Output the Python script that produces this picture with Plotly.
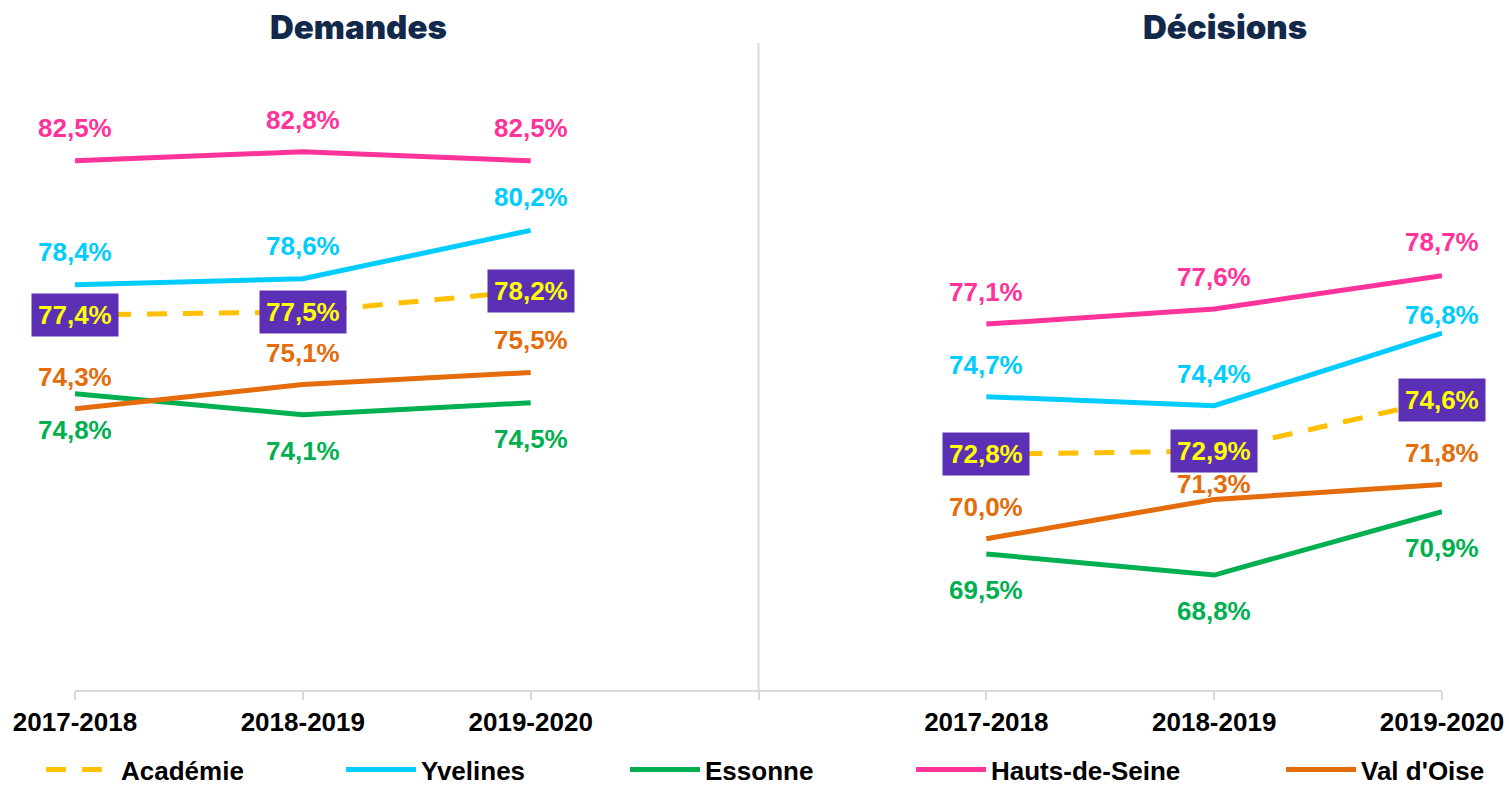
import plotly.graph_objects as go

# ---------------- data ----------------
categories = ["2017-2018", "2018-2019", "2019-2020"]
panels = ["Demandes", "Décisions"]
series_names = ["Académie", "Yvelines", "Essonne", "Hauts-de-Seine", "Val d'Oise"]

academie_dem = [77.4, 77.5, 78.2]
academie_dec = [72.8, 72.9, 74.6]
yvelines_dem = [78.4, 78.6, 80.2]
yvelines_dec = [74.7, 74.4, 76.8]
essonne_dem = [74.8, 74.1, 74.5]
essonne_dec = [69.5, 68.8, 70.9]
hds_dem = [82.5, 82.8, 82.5]
hds_dec = [77.1, 77.6, 78.7]
vdo_dem = [74.3, 75.1, 75.5]
vdo_dec = [70.0, 71.3, 71.8]

# ---------------- styling ----------------
colors = {
    "Académie": "#FFC000",
    "Yvelines": "#00CCFF",
    "Essonne": "#00B050",
    "Hauts-de-Seine": "#FF3399",
    "Val d'Oise": "#E46C0A",
}
# label vertical offsets in px (positive = above point), per series: 6 values (3 left, 3 right)
label_shift = {
    "Yvelines": [33, 33, 33, 32, 32, 18],
    "Essonne": [-36, -36, -36, -36, -36, -36],
    "Hauts-de-Seine": [33, 32, 33, 32, 32, 34],
    "Val d'Oise": [32, 32, 32, 32, 15, 31],
}
legend_text_px = [121, 421, 705, 991, 1361]

W, H = 1509, 793
L, R, T, B = 75, 67, 43, 103
plot_w = W - L - R

data = {
    "Académie": (academie_dem, academie_dec),
    "Yvelines": (yvelines_dem, yvelines_dec),
    "Essonne": (essonne_dem, essonne_dec),
    "Hauts-de-Seine": (hds_dem, hds_dec),
    "Val d'Oise": (vdo_dem, vdo_dec),
}

n = len(categories)
x_left = list(range(n))
x_right = [n + 1 + i for i in range(n)]
x_all = x_left + [None] + x_right

fmt = lambda v: f"{v:.1f}%".replace(".", ",")

fig = go.Figure()
annotations = []
label_font = dict(family="Liberation Sans, Arial, sans-serif", size=26)

for k, name in enumerate(series_names):
    dem, dec = data[name]
    y_all = dem + [None] + dec
    lg = "legend" if k == 0 else f"legend{k + 1}"
    fig.add_trace(go.Scatter(
        x=x_all, y=y_all, mode="lines", name=f"<b>{name}</b>",
        line=dict(color=colors[name], width=5,
                  dash="20px,16px" if name == "Académie" else "solid"),
        connectgaps=False, legend=lg, hoverinfo="skip",
    ))
    xs = x_left + x_right
    ys = dem + dec
    for i, (xv, yv) in enumerate(zip(xs, ys)):
        if name == "Académie":
            annotations.append(dict(
                x=xv, y=yv, xref="x", yref="y", text=f"<b>{fmt(yv)}</b>",
                showarrow=False, font=dict(label_font, color="#FFFF00"),
                bgcolor="#5B30B5", borderpad=6, xanchor="center", yanchor="middle",
            ))
        else:
            annotations.append(dict(
                x=xv, y=yv, xref="x", yref="y", text=f"<b>{fmt(yv)}</b>",
                showarrow=False, font=dict(label_font, color=colors[name]),
                xanchor="center", yanchor="middle", yshift=label_shift[name][i],
            ))

# panel titles
title_font = dict(family="Arial Black, Inter, Roboto, sans-serif", size=33, color="#13294B", weight=900)
for title, px in zip(panels, [358, 1225]):
    annotations.append(dict(
        x=(px - L) / plot_w, y=1 + (T - 27) / (H - T - B), xref="paper", yref="paper",
        text=title, showarrow=False, font=title_font, xanchor="center", yanchor="middle",
    ))

fig.update_layout(annotations=annotations)

# divider between panels
fig.add_shape(type="line", xref="x", yref="y domain", x0=n, x1=n, y0=0, y1=1,
              line=dict(color="#D9D9D9", width=2), layer="below")

tickvals = x_left + [n] + x_right
ticktext = [f"<b>{c}</b>" for c in categories] + [""] + [f"<b>{c}</b>" for c in categories]
fig.update_xaxes(
    range=[0, 2 * n], tickvals=tickvals, ticktext=ticktext,
    showline=True, linecolor="#D9D9D9", linewidth=1.5,
    ticks="outside", ticklen=8, tickcolor="#D9D9D9", tickwidth=1.5,
    showgrid=False, zeroline=False, automargin=False,
    tickfont=dict(family="Liberation Sans, Arial, sans-serif", size=26, color="#000000"),
    ticklabelstandoff=0,
)
fig.update_yaxes(range=[65, 65 + (H - T - B) / 30.24], visible=False, showgrid=False,
                 zeroline=False, automargin=False)

legend_common = dict(
    orientation="h", xanchor="left", yanchor="bottom", yref="container",
    y=0, itemwidth=70, bgcolor="rgba(0,0,0,0)", borderwidth=0,
    font=dict(family="Liberation Sans, Arial, sans-serif", size=26, color="#000000"),
    itemclick=False, itemdoubleclick=False, tracegroupgap=0,
)
legend_layout = {}
for k, tx in enumerate(legend_text_px):
    key = "legend" if k == 0 else f"legend{k + 1}"
    legend_layout[key] = dict(legend_common, x=(tx - 80 - L) / plot_w)

fig.update_layout(
    width=W, height=H, autosize=False,
    margin=dict(l=L, r=R, t=T, b=B, autoexpand=False),
    paper_bgcolor="white", plot_bgcolor="white",
    showlegend=True,
    **legend_layout,
)

fig.write_html("out.html", config={"displayModeBar": False})
